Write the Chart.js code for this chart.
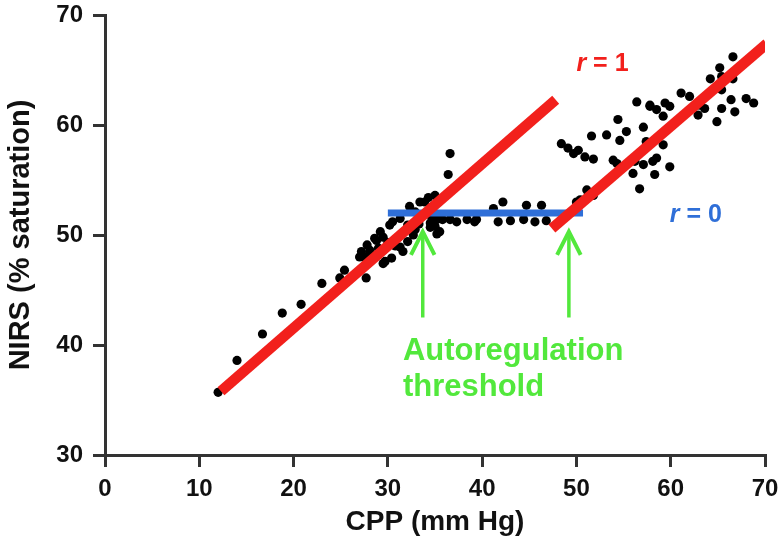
<!DOCTYPE html>
<html>
<head>
<meta charset="utf-8">
<script src="https://cdn.jsdelivr.net/npm/chart.js@4"></script>
<style>
  html, body { margin: 0; padding: 0; background: #fff; }
  #wrap { width: 780px; height: 546px; }
</style>
</head>
<body>
<div id="wrap"><canvas id="c"></canvas></div>
<script>
// ── data ──
const cppValues = [
  12.0, 14.0, 16.7, 18.8, 20.8, 23.0, 24.9, 25.4, 27.7, 27.0, 27.9, 29.5, 28.8,
  36.6, 36.4, 35.0, 34.3, 33.4, 33.9, 32.3, 32.9, 31.3, 30.5, 30.2, 29.2, 28.6, 29.5,
  27.8, 27.2, 28.1, 27.4, 29.7, 30.4, 31.3, 31.6, 32.1, 31.1, 32.7, 32.9, 32.1,
  34.5, 35.2, 35.0, 35.5, 34.6, 34.1, 35.8, 36.6, 37.3, 38.4, 39.2, 34.5, 35.2,
  30.8, 33.3, 29.0, 30.0,
  39.4, 41.2, 41.7, 42.2, 44.4, 44.7, 45.6, 46.3, 43.0, 46.8,
  50.0, 51.1, 50.4, 51.8,
  48.4, 49.1, 49.7, 50.2, 50.9, 51.8, 51.6, 53.2, 53.9, 54.3, 54.6, 54.4, 55.3,
  56.2, 57.1, 58.1, 56.0, 58.3, 56.7, 56.4, 57.8, 58.5, 57.1, 59.4, 59.9, 59.2,
  57.8, 59.2, 58.5, 61.1, 62.0, 63.1, 63.6, 62.9, 64.9, 65.4, 66.8, 66.4, 68.0,
  68.8, 65.4, 64.2, 65.4, 66.6, 65.2, 66.6, 57.4, 59.9
];
const nirsValues = [
  35.7, 38.6, 41.0, 42.9, 43.7, 45.6, 46.1, 46.8, 46.1, 48.0, 48.1, 47.4, 49.5,
  57.4, 55.5, 53.6, 53.4, 53.0, 53.0, 52.6, 52.1, 51.5, 51.2, 50.9, 50.3, 49.7, 49.8,
  49.1, 48.5, 48.6, 48.0, 47.6, 47.9, 48.9, 48.5, 49.4, 49.8, 50.0, 50.5, 50.9,
  51.1, 51.4, 50.8, 50.3, 51.7, 52.0, 51.4, 51.4, 51.2, 51.4, 51.2, 50.7, 50.1,
  49.0, 51.0, 48.8, 49.3,
  51.4, 52.4, 51.2, 53.0, 51.4, 52.7, 51.2, 52.7, 51.3, 51.3,
  53.0, 54.1, 53.2, 53.6,
  58.3, 57.9, 57.4, 57.7, 57.1, 56.9, 59.0, 59.1, 56.8, 56.5, 58.6, 60.5, 59.4,
  56.7, 56.4, 56.7, 55.6, 55.5, 54.2, 62.1, 61.7, 61.4, 59.8, 62.0, 61.7, 60.8,
  61.8, 58.2, 57.0, 62.9, 62.6, 61.8, 61.5, 60.9, 60.3, 61.5, 61.2, 62.3, 62.4,
  62.0, 63.2, 64.2, 64.4, 64.2, 65.2, 66.2, 58.5, 56.2
];

// fitted lines (endpoints in data units)
const redLowX = [12.3, 47.8];
const redLowY = [35.8, 62.3];
const redHighX = [47.4, 70.2];
const redHighY = [50.6, 67.4];
const blueX = [30.0, 50.7];
const blueY = [52.0, 52.0];

// autoregulation threshold arrows: x position, shaft base, tip
const arrowX = [33.7, 49.2];
const arrowBase = 42.5;
const arrowTip = 50.3;

const xTicks = [0, 10, 20, 30, 40, 50, 60, 70];
const yTicks = [30, 40, 50, 60, 70];

const RED = '#f2201c';
const BLUE = '#2f6fd8';
const GREEN = '#52e83c';
const INK = '#111111';
const AXIS = '#333333';
const FONT = '"Liberation Sans", Arial, sans-serif';

const pairs = (xs, ys) => xs.map((x, i) => ({ x: x, y: ys[i] }));

function lineSet(points, color, width, order) {
  return {
    data: points, showLine: true, pointRadius: 0, borderColor: color,
    backgroundColor: color, borderWidth: width, order: order, borderCapStyle: 'butt'
  };
}

const datasets = [
  { data: pairs(cppValues, nirsValues), pointRadius: 4.6, pointBackgroundColor: '#000',
    pointBorderWidth: 0, showLine: false, order: 5 },
  lineSet(pairs(blueX, blueY), BLUE, 7, 4),
  lineSet(pairs(redLowX, redLowY), RED, 10.5, 3),
  lineSet(pairs(redHighX, redHighY), RED, 10.5, 3)
];
arrowX.forEach(ax => {
  datasets.push(lineSet([{ x: ax, y: arrowBase }, { x: ax, y: arrowTip - 0.3 }], GREEN, 3.5, 1));
  datasets.push(lineSet([{ x: ax - 1.25, y: 48.2 }, { x: ax, y: arrowTip }, { x: ax + 1.25, y: 48.2 }], GREEN, 4, 1));
});

// annotation texts, anchored in data units
const labelPlugin = {
  id: 'labels',
  afterDatasetsDraw(chart) {
    const { ctx, scales } = chart;
    const px = v => scales.x.getPixelForValue(v);
    const py = v => scales.y.getPixelForValue(v);
    ctx.save();
    ctx.textBaseline = 'middle';
    ctx.textAlign = 'left';

    function rEq(x, y, rest, color) {
      ctx.fillStyle = color;
      ctx.font = 'italic bold 25px ' + FONT;
      ctx.fillText('r', px(x), py(y));
      const w = ctx.measureText('r').width;
      ctx.font = 'bold 25px ' + FONT;
      ctx.fillText(rest, px(x) + w, py(y));
    }
    rEq(50.0, 65.5, ' = 1', RED);
    rEq(59.9, 51.8, ' = 0', BLUE);

    ctx.fillStyle = GREEN;
    ctx.font = 'bold 31px ' + FONT;
    ctx.fillText('Autoregulation', px(31.6), py(39.4));
    ctx.fillText('threshold', px(31.6), py(36.1));
    ctx.restore();
  }
};

new Chart(document.getElementById('c'), {
  type: 'scatter',
  data: { datasets: datasets },
  options: {
    responsive: true,
    maintainAspectRatio: false,
    animation: false,
    layout: { padding: { top: 15, right: 15, left: 0, bottom: 0 } },
    plugins: { legend: { display: false }, tooltip: { enabled: false } },
    scales: {
      x: {
        type: 'linear', min: 0, max: 70,
        afterBuildTicks: s => { s.ticks = xTicks.map(v => ({ value: v })); },
        afterFit: s => { s.height = 91; s.paddingLeft = 0; s.paddingRight = 0; },
        ticks: { color: INK, font: { family: FONT, size: 24, weight: 'bold' }, padding: 8 },
        grid: { drawOnChartArea: false, drawTicks: true, tickLength: 12, color: AXIS, lineWidth: 3 },
        border: { color: AXIS, width: 3 },
        title: { display: true, text: 'CPP (mm Hg)', color: INK,
          font: { family: FONT, size: 28, weight: 'bold' }, padding: { top: 0, bottom: 7 } }
      },
      y: {
        type: 'linear', min: 30, max: 70,
        afterBuildTicks: s => { s.ticks = yTicks.map(v => ({ value: v })); },
        afterFit: s => { s.width = 105; s.paddingTop = 0; s.paddingBottom = 0; },
        ticks: { color: INK, font: { family: FONT, size: 24, weight: 'bold' }, padding: 10 },
        grid: { drawOnChartArea: false, drawTicks: true, tickLength: 12, color: AXIS, lineWidth: 3 },
        border: { color: AXIS, width: 3 },
        title: { display: true, text: 'NIRS (% saturation)', color: INK,
          font: { family: FONT, size: 29, weight: 'bold' }, padding: { bottom: 0 } }
      }
    }
  },
  plugins: [labelPlugin]
});
</script>
</body>
</html>
